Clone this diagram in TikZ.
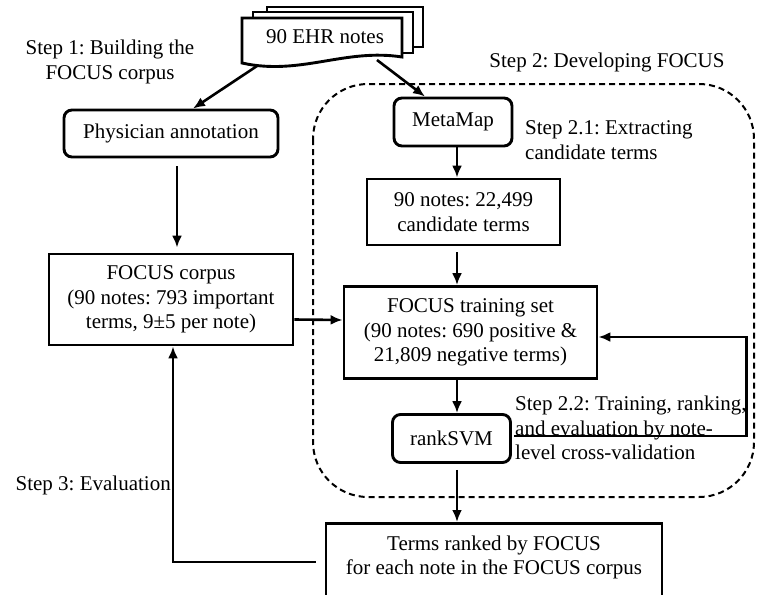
\documentclass[tikz,border=0pt]{standalone}
\usepackage{fontspec}
\setmainfont{Liberation Serif}
\usetikzlibrary{arrows.meta,calc}
\frenchspacing
\begin{document}
\begin{tikzpicture}[x=1pt,y=-1pt,
  every node/.style={font=\fontsize{21}{24.5}\selectfont},
  box/.style={draw,line width=2.9pt,align=center,inner sep=0pt},
  rbox/.style={box,rounded corners=8pt},
  arr/.style={line width=2.6pt,-{Latex[length=12pt,width=10pt]}},
  lbl/.style={align=left,inner sep=0pt},
  docsheet/.style={draw,fill=white,line width=2.9pt},
  dashbox/.style={draw,dash pattern=on 6pt off 4pt,line width=2pt,rounded corners=55pt}
]
\useasboundingbox (0,0) rectangle (757,594);
\clip (0,0) rectangle (757,594);

% stacked EHR documents
\filldraw[docsheet] (267,7) rectangle (423,47);
\filldraw[docsheet] (253,12) rectangle (413,53);
\filldraw[docsheet] (242,18) -- (402,18) -- (402,57) .. controls (345,48) and (300,76) .. (242,63) -- cycle;
\node (ehr) at (325,37) {90 EHR notes};
\coordinate (docl) at (257,66);
\coordinate (docr) at (377,60);

% dashed region
\draw[dashbox] (313,84) rectangle (754,497);

% boxes
\node[rbox,minimum width=214pt,minimum height=47pt] (phys) at (171,133.5) {Physician annotation};
\node[box,minimum width=244pt,minimum height=91pt] (corpus) at (171,299.5) {FOCUS corpus\\(90 notes: 793 important\\terms, 9±5 per note)};
\node[rbox,minimum width=118pt,minimum height=48pt] (meta) at (453,122) {MetaMap};
\node[box,minimum width=193pt,minimum height=66pt] (cand) at (463.5,212) {90 notes: 22,499\\candidate terms};
\node[box,minimum width=253pt,minimum height=92pt] (train) at (470.5,332.5) {FOCUS training set\\(90 notes: 690 positive \&\\21,809 negative terms)};
\node[rbox,minimum width=118pt,minimum height=48pt] (rank) at (451.5,438.5) {rankSVM};
\node[box,anchor=north,minimum width=336pt,inner ysep=12pt,text depth=40pt] (terms) at (494,522) {Terms ranked by FOCUS\\for each note in the FOCUS corpus};

% labels
\node[lbl,align=center] (s1) at (110,62) {Step 1: Building the\\FOCUS corpus};
\node (s2) at (607,62) {Step 2: Developing FOCUS};
\node[lbl,anchor=west] (s21) at (525,140) {Step 2.1: Extracting\\candidate terms};
\node[lbl,anchor=west] (s22) at (515,428) {Step 2.2: Training, ranking,\\and evaluation by note-\\level cross-validation};
\node[inner sep=0pt,anchor=east] (s3) at (171,485) {Step 3: Evaluation};

% connectors
\coordinate (ax) at (457,0);
\coordinate (lx) at (177,0);
\draw[arr] (docl) -- ($(phys.north)+(22,0)$);
\draw[arr] (docr) -- ($(meta.north)+(-28,0)$);
\draw[arr,shorten <=8pt,shorten >=5pt] (phys.south -| lx) -- (corpus.north -| lx);
\draw[arr] (meta.south -| ax) -- (cand.north -| ax);
\draw[arr,shorten <=6pt] (cand.south -| ax) -- (train.north -| ax);
\draw[arr] (train.south -| ax) -- (rank.north -| ax);
\draw[arr,shorten <=6pt] (rank.south -| ax) -- (terms.north -| ax);
\draw[arr] ($(corpus.east)+(0,20)$) -- ($(train.west)+(0,-12.5)$);
\draw[arr] ($(rank.east)+(2,-2.5)$) -| ($(train.east)+(148,4.5)$) -- ($(train.east)+(0,4.5)$);
\draw[arr] ($(terms.north west)+(-9,40)$) -| (corpus.south -| 173,0);
\end{tikzpicture}
\end{document}
